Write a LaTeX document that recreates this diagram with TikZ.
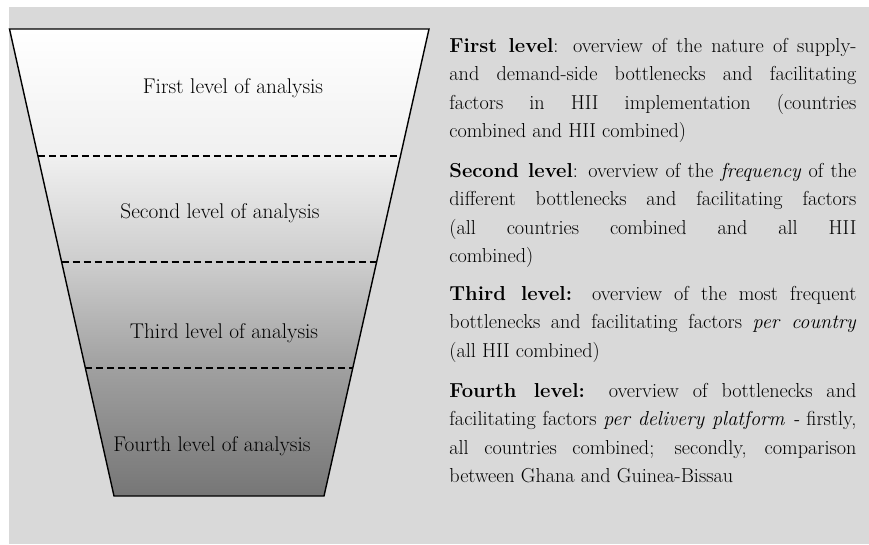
\documentclass[tikz,border=0pt]{standalone}
\usepackage{fontspec}
\usepackage{tikz}
\usetikzlibrary{calc}
\definecolor{panel}{RGB}{217, 217, 217}
\definecolor{tone1}{RGB}{240, 240, 240}
\definecolor{tone2}{RGB}{205, 205, 205}
\definecolor{tone3}{RGB}{160, 160, 160}
\definecolor{tone4}{RGB}{118, 118, 118}
\pgfdeclareverticalshading{funnel}{100bp}{color(0bp)=(tone4); color(25bp)=(tone4);
  color(38.7bp)=(tone3); color(50bp)=(tone2); color(61.4bp)=(tone1);
  color(75bp)=(white); color(100bp)=(white)}
\tikzset{
  levellabel/.style={anchor=base, inner sep=0pt, font=\fontsize{21.3}{25}\selectfont},
  levelnote/.style={anchor=base west, text width=407pt, align=justify, inner sep=0pt,
    font=\fontsize{20.2}{28.5}\selectfont}
}

\begin{document}
\begin{tikzpicture}[x=1pt, y=1pt, thick]

  \useasboundingbox (0, 0) rectangle (869, -544);
  \fill[panel] (9, -7) rectangle (869, -544);

  \coordinate (tl) at (9.5, -29);
  \coordinate (tr) at (429, -29);
  \coordinate (br) at (324, -496);
  \coordinate (bl) at (114, -496);

  \shade[shading=funnel] (tl) -- (tr) -- (br) -- (bl) -- cycle;
  \draw[line width=1.4pt] (tl) -- (tr) -- (br) -- (bl) -- cycle;

  \foreach \t in {0.272, 0.499, 0.726} {
    \draw[line width=1.2pt, dash pattern=on 7pt off 4pt]
      ($(tl)!\t!(bl)$) -- ($(tr)!\t!(br)$);
  }

  \node[levellabel] (first) at (233, -93) {First level of analysis};
  \node[levellabel] (second) at (220, -218) {Second level of analysis};
  \node[levellabel] (third) at (224, -338) {Third level of analysis};
  \node[levellabel] (fourth) at (212, -451) {Fourth level of analysis};

  \node[levelnote] (firstnote) at (449, -52) {\textbf{First level}: overview of the
    nature of supply-\linebreak and demand-side bottlenecks and facilitating\linebreak
    factors in HII implementation (countries\linebreak combined and HII combined)};
  \node[levelnote] (secondnote) at (449, -177) {\textbf{Second level}: overview of
    the \textit{frequency} of the\linebreak different bottlenecks and facilitating
    factors\linebreak (all countries combined and all HII\linebreak combined)};
  \node[levelnote] (thirdnote) at (449, -300) {\textbf{Third level:} overview of
    the most frequent\linebreak bottlenecks and facilitating factors
    \textit{per country}\linebreak (all HII combined)};
  \node[levelnote] (fourthnote) at (449, -397) {\textbf{Fourth level:} overview of
    bottlenecks and\linebreak facilitating factors \textit{per delivery platform -}
    firstly,\linebreak all countries combined; secondly, comparison\linebreak
    between Ghana and Guinea-Bissau};

\end{tikzpicture}
\end{document}
